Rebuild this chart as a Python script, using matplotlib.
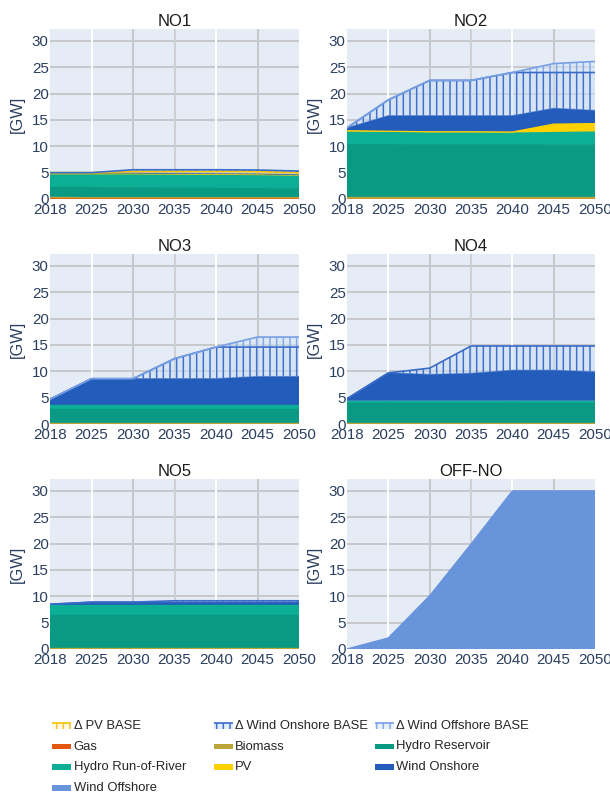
import matplotlib
matplotlib.use("Agg")
import matplotlib.pyplot as plt
from matplotlib.patches import Rectangle
from matplotlib.lines import Line2D
import numpy as np

plt.rcParams["font.family"] = ["Liberation Sans", "DejaVu Sans"]
plt.rcParams["hatch.linewidth"] = 0.9

# ---------------------------------------------------------------- data (GW)
years = [2018, 2025, 2030, 2035, 2040, 2045, 2050]
regions = ["NO1", "NO2", "NO3", "NO4", "NO5", "OFF-NO"]

# one row per region, in the order of `regions`
gas = [
    [0.15, 0.1, 0.1, 0.1, 0.1, 0.1, 0.1],
    [0.05, 0.05, 0.05, 0.05, 0.05, 0.05, 0.05],
    [0.05, 0.05, 0.05, 0.05, 0.05, 0.05, 0.05],
    [0.05, 0.05, 0.05, 0.05, 0.05, 0.05, 0.05],
    [0.05, 0.05, 0.05, 0.05, 0.05, 0.05, 0.05],
    [0, 0, 0, 0, 0, 0, 0],
]
biomass = [
    [0.15, 0.15, 0.15, 0.15, 0.15, 0.15, 0.15],
    [0.3, 0.3, 0.3, 0.3, 0.3, 0.3, 0.3],
    [0.15, 0.15, 0.15, 0.15, 0.15, 0.15, 0.15],
    [0.15, 0.15, 0.15, 0.15, 0.15, 0.15, 0.15],
    [0.2, 0.2, 0.2, 0.2, 0.2, 0.2, 0.2],
    [0, 0, 0, 0, 0, 0, 0],
]
hydro_reservoir = [
    [1.9, 1.9, 1.85, 1.8, 1.75, 1.7, 1.65],
    [9.95, 9.95, 9.9, 9.9, 9.9, 9.85, 9.85],
    [2.6, 2.6, 2.6, 2.6, 2.6, 2.6, 2.6],
    [3.8, 3.8, 3.8, 3.8, 3.8, 3.8, 3.8],
    [6.25, 6.25, 6.25, 6.25, 6.25, 6.25, 6.25],
    [0, 0, 0, 0, 0, 0, 0],
]
hydro_ror = [
    [2.6, 2.65, 2.65, 2.65, 2.65, 2.65, 2.6],
    [2.4, 2.35, 2.3, 2.3, 2.25, 2.4, 2.5],
    [0.8, 0.8, 0.8, 0.8, 0.8, 0.8, 0.8],
    [0.4, 0.4, 0.4, 0.4, 0.4, 0.4, 0.4],
    [1.8, 1.8, 1.8, 1.8, 1.8, 1.8, 1.8],
    [0, 0, 0, 0, 0, 0, 0],
]
pv = [
    [0, 0, 0.05, 0.05, 0.05, 0.05, 0.05],
    [0.25, 0.2, 0.2, 0.2, 0.2, 1.6, 1.6],
    [0, 0, 0, 0, 0, 0, 0],
    [0, 0, 0, 0, 0, 0, 0],
    [0, 0, 0, 0, 0, 0, 0],
    [0, 0, 0, 0, 0, 0, 0],
]
wind_onshore = [
    [0.2, 0.2, 0.15, 0.15, 0.15, 0.15, 0.1],
    [0.55, 2.95, 3.05, 3.05, 3.1, 3.0, 2.5],
    [1.1, 5.0, 5.0, 5.0, 5.0, 5.4, 5.4],
    [0.4, 5.3, 5.0, 5.2, 5.8, 5.8, 5.5],
    [0.2, 0.6, 0.6, 0.6, 0.6, 0.6, 0.6],
    [0, 0, 0, 0, 0, 0, 0],
]
wind_offshore = [
    [0, 0, 0, 0, 0, 0, 0],
    [0, 0, 0, 0, 0, 0, 0],
    [0, 0, 0, 0, 0, 0, 0],
    [0, 0, 0, 0, 0, 0, 0],
    [0, 0, 0, 0, 0, 0, 0],
    [0, 2.1, 10.1, 19.9, 30.0, 30.0, 30.0],
]
delta_pv_base = [
    [0, 0, 0.3, 0.35, 0.4, 0.4, 0.35],
    [0, 0, 0, 0, 0, 0, 0],
    [0, 0, 0, 0, 0, 0, 0],
    [0, 0, 0, 0, 0, 0, 0],
    [0, 0, 0, 0, 0, 0, 0],
    [0, 0, 0, 0, 0, 0, 0],
]
delta_wind_onshore_base = [
    [0, 0, 0.3, 0.3, 0.3, 0.3, 0.3],
    [0, 3.0, 6.7, 6.7, 8.2, 6.8, 7.2],
    [0, 0, 0, 3.8, 6.0, 5.6, 5.6],
    [0, 0, 1.2, 5.2, 4.6, 4.6, 4.9],
    [0, 0, 0, 0.25, 0.25, 0.25, 0.25],
    [0, 0, 0, 0, 0, 0, 0],
]
delta_wind_offshore_base = [
    [0, 0, 0, 0, 0, 0, 0],
    [0, 0, 0, 0, 0, 1.7, 2.1],
    [0, 0, 0, 0, 0, 1.9, 1.9],
    [0, 0, 0, 0, 0, 0, 0],
    [0, 0, 0, 0, 0, 0, 0],
    [0, 0, 0, 0, 0, 0, 0],
]

y_ticks = [0, 5, 10, 15, 20, 25, 30]

# ---------------------------------------------------------------- styling
solid_layers = [
    ("Gas", gas, "#E4570F"),
    ("Biomass", biomass, "#BCA33A"),
    ("Hydro Reservoir", hydro_reservoir, "#0A9A84"),
    ("Hydro Run-of-River", hydro_ror, "#0CAE95"),
    ("PV", pv, "#FFD100"),
    ("Wind Onshore", wind_onshore, "#235CBA"),
    ("Wind Offshore", wind_offshore, "#6894DC"),
]
# (label, values, line colour, hatch colour, background rgba)
delta_layers = [
    ("\u0394 PV BASE", delta_pv_base, "#F5C400", "#F2C230", (1.0, 0.96, 0.80, 0.55)),
    ("\u0394 Wind Onshore BASE", delta_wind_onshore_base, "#3A6CC8", "#3F70CC",
     (0.80, 0.87, 0.96, 0.55)),
    ("\u0394 Wind Offshore BASE", delta_wind_offshore_base, "#78A0E4", "#86A9E8",
     (0.84, 0.90, 0.97, 0.55)),
]

W, H, DPI = 610, 796, 120
TICK_C = "#2A3F5F"
BG = "#E5ECF6"
GRID_GREY = "#C6C8CC"
v_grid_colors = {1: "#FFFFFF", 2: GRID_GREY, 3: "#CDCFD3", 4: "#FFFFFF", 5: GRID_GREY}

col_x = [(50, 299), (347, 595)]
row_y = [(29.3, 199), (254.3, 424), (479.3, 649)]

fig = plt.figure(figsize=(W / DPI, H / DPI), dpi=DPI)
fig.patch.set_facecolor("white")

xs = np.arange(len(years))

for i, region in enumerate(regions):
    r, c = divmod(i, 2)
    x0, x1 = col_x[c]
    y0, y1 = row_y[r]
    ax = fig.add_axes([x0 / W, 1 - y1 / H, (x1 - x0) / W, (y1 - y0) / H])
    ax.set_facecolor(BG)
    for s in ax.spines.values():
        s.set_visible(False)

    # grid
    for yv in y_ticks[1:]:
        ax.axhline(yv, color=GRID_GREY, lw=1.2, zorder=0.5)
    for k in xs[1:-1]:
        ax.axvline(k, color=v_grid_colors[k], lw=1.2, zorder=0.5)

    base = np.zeros(len(years))
    for name, vals, color in solid_layers:
        v = np.asarray(vals[i], dtype=float)
        top = base + v
        if v.any():
            ax.fill_between(xs, base, top, facecolor=color, edgecolor="none",
                            lw=0, zorder=2)
            ax.plot(xs, top, color=color, lw=0.8, zorder=2.1)
        base = top
    for name, vals, lc, hc, bg in delta_layers:
        v = np.asarray(vals[i], dtype=float)
        top = base + v
        if v.any():
            ax.fill_between(xs, base, top, facecolor=bg, edgecolor=hc,
                            hatch="|||", lw=0, zorder=2.5)
            ax.plot(xs, top, color=lc, lw=1.0, zorder=3)
        base = top

    ax.set_xlim(0, len(years) - 1)
    ax.set_ylim(0, 32.2)
    ax.set_xticks(xs, labels=[str(y) for y in years])
    ax.set_yticks(y_ticks)
    ax.tick_params(axis="x", length=0, pad=2.2, labelsize=9.1, colors=TICK_C)
    ax.tick_params(axis="y", length=0, pad=0.8, labelsize=9.1, colors=TICK_C)
    ax.set_title(region, fontsize=10, color="#1A1A1A", pad=2.2)

    fig.text((x0 - 33.0) / W, 1 - ((y0 + y1) / 2) / H, "[GW]", rotation=90,
             ha="center", va="center", fontsize=9.8, color=TICK_C)

# ---------------------------------------------------------------- legend
legend_entries = [
    ("delta", delta_layers[0]), ("delta", delta_layers[1]), ("delta", delta_layers[2]),
    ("solid", solid_layers[0]), ("solid", solid_layers[1]), ("solid", solid_layers[2]),
    ("solid", solid_layers[3]), ("solid", solid_layers[4]), ("solid", solid_layers[5]),
    ("solid", solid_layers[6]),
]
sym_x = [52, 213.5, 375]
txt_x = [73.5, 235, 396.5]
row_cy = [725.7, 746.5, 767.3, 787.8]
sym_w = 19


def fx(px):
    return px / W


def fy(py):
    return 1 - py / H


for n, (kind, spec) in enumerate(legend_entries):
    rr, cc = divmod(n, 3)
    cy = row_cy[rr]
    sx = sym_x[cc]
    if kind == "solid":
        label, _, color = spec
        fig.add_artist(Rectangle((fx(sx), fy(cy + 2.8)), sym_w / W, 5.6 / H,
                                 transform=fig.transFigure, facecolor=color,
                                 edgecolor="none", lw=0))
    else:
        label, _, lc, hc, bg = spec
        fig.add_artist(Rectangle((fx(sx), fy(cy + 3.2)), sym_w / W, 6.4 / H,
                                 transform=fig.transFigure, facecolor=bg,
                                 edgecolor=hc, hatch="|||", lw=0))
        fig.add_artist(Line2D([fx(sx), fx(sx + sym_w)], [fy(cy - 3.2), fy(cy - 3.2)],
                              transform=fig.transFigure, color=lc, lw=1.0,
                              solid_capstyle="butt"))
    fig.text(fx(txt_x[cc]), fy(cy), label, ha="left", va="center",
             fontsize=7.8, color="#262626")

fig.savefig("out.png", dpi=DPI)
